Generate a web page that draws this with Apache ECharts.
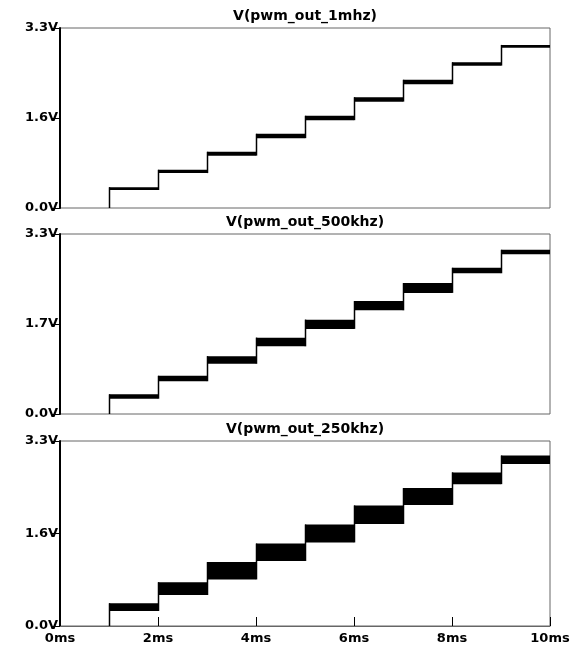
<!DOCTYPE html>
<html>
<head>
<meta charset="utf-8">
<script src="https://cdn.jsdelivr.net/npm/echarts@6/dist/echarts.min.js"></script>
<style>
  html, body { margin: 0; padding: 0; background: #fff; }
  #chart { width: 579px; height: 657px; }
</style>
</head>
<body>
<div id="chart"></div>
<script>
// step start / end times (ms)
const stepStart = [1, 2, 3, 4, 5, 6, 7, 8, 9];
const stepEnd = [2, 3, 4, 5, 6, 7, 8, 9, 10];

// ripple band of each step (V)
const high1mhz = [0.38, 0.70, 1.03, 1.36, 1.69, 2.03, 2.35, 2.67, 2.99];
const low1mhz = [0.33, 0.64, 0.96, 1.28, 1.61, 1.95, 2.27, 2.61, 2.94];
const high500khz = [0.36, 0.70, 1.06, 1.40, 1.73, 2.07, 2.40, 2.68, 3.01];
const low500khz = [0.28, 0.60, 0.92, 1.24, 1.56, 1.90, 2.22, 2.58, 2.93];
const high250khz = [0.405, 0.78, 1.14, 1.47, 1.81, 2.15, 2.46, 2.74, 3.04];
const low250khz = [0.268, 0.553, 0.83, 1.16, 1.49, 1.82, 2.16, 2.53, 2.89];

const titles = ['V(pwm_out_1mhz)', 'V(pwm_out_500khz)', 'V(pwm_out_250khz)'];
const yLabels = [
  ['0.0V', '1.6V', '3.3V'],
  ['0.0V', '1.7V', '3.3V'],
  ['0.0V', '1.6V', '3.3V'],
];
const xLabels = ['0ms', '2ms', '4ms', '6ms', '8ms', '10ms'];

const FONT = 'DejaVu Sans';
const grids = [
  { left: 60, top: 28, width: 490, height: 180 },
  { left: 60, top: 234, width: 490, height: 180 },
  { left: 60, top: 441, width: 490, height: 185 },
];

function buildBands(high, low) {
  return stepStart.map((s, i) => [s, stepEnd[i], low[i], high[i], i == 0 ? 0 : low[i - 1]]);
}
const bands = [
  buildBands(high1mhz, low1mhz),
  buildBands(high500khz, low500khz),
  buildBands(high250khz, low250khz),
];

function renderBand(params, api) {
  const x0 = api.value(0), x1 = api.value(1);
  const lo = api.value(2), hi = api.value(3), prev = api.value(4);
  const tl = api.coord([x0, hi]);
  const br = api.coord([x1, lo]);
  const p0 = api.coord([x0, prev]);
  return {
    type: 'group',
    children: [
      {
        type: 'rect',
        shape: { x: tl[0], y: tl[1], width: br[0] - tl[0], height: Math.max(br[1] - tl[1], 2.5) },
        style: { fill: '#000' },
      },
      {
        type: 'line',
        shape: { x1: tl[0] + 0.5, y1: p0[1], x2: tl[0] + 0.5, y2: tl[1] },
        style: { stroke: '#000', lineWidth: 1.5 },
      },
    ],
  };
}

const chart = echarts.init(document.getElementById('chart'));
const option = {
  animation: false,
  backgroundColor: '#fff',
  title: titles.map((t, i) => ({
    text: t,
    left: 305,
    textAlign: 'center',
    top: grids[i].top - 19,
    padding: 0,
    textStyle: { fontFamily: FONT, fontSize: 14, fontWeight: 'bold', color: '#000' },
  })),
  grid: grids.map((g) => ({ ...g, show: true, borderColor: '#666', borderWidth: 1, backgroundColor: 'transparent' })),
  xAxis: grids.map((g, i) => ({
    type: 'value',
    gridIndex: i,
    min: 0,
    max: 10,
    interval: 2,
    splitLine: { show: false },
    axisLine: { show: i == 2, lineStyle: { color: '#666', width: 1 } },
    axisTick: { show: i == 2, inside: true, length: 9, lineStyle: { color: '#000', width: 1 } },
    axisLabel: {
      show: i == 2,
      margin: 6,
      fontFamily: FONT,
      fontSize: 13,
      fontWeight: 'bold',
      color: '#000',
      formatter: (v, idx) => xLabels[idx],
    },
  })),
  yAxis: grids.map((g, i) => ({
    type: 'value',
    gridIndex: i,
    min: 0,
    max: 3.3,
    interval: 1.65,
    splitLine: { show: false },
    axisLine: { show: true, lineStyle: { color: '#000', width: 2 } },
    axisTick: { show: true, length: 9, lineStyle: { color: '#000', width: 1 } },
    axisLabel: {
      margin: 2,
      fontFamily: FONT,
      fontSize: 13,
      fontWeight: 'bold',
      color: '#000',
      formatter: (v, idx) => yLabels[i][idx],
    },
  })),
  series: bands.map((d, i) => ({
    type: 'custom',
    xAxisIndex: i,
    yAxisIndex: i,
    silent: true,
    clip: true,
    renderItem: renderBand,
    encode: { x: [0, 1], y: [2, 3] },
    data: d,
  })),
};
chart.setOption(option);
</script>
</body>
</html>
